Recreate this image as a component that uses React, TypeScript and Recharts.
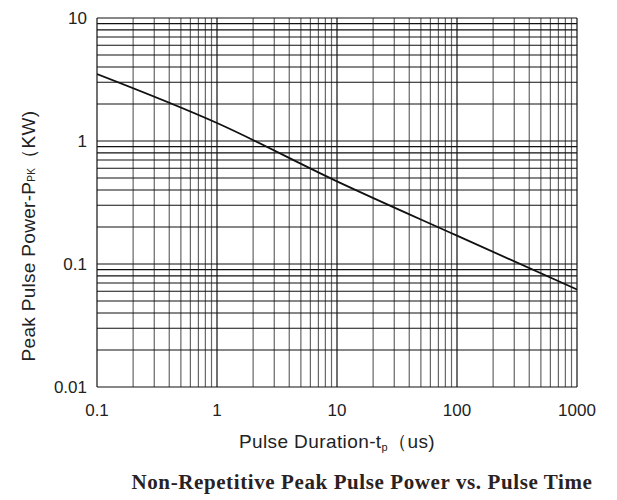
import { LineChart, Line, XAxis, YAxis, ReferenceLine, Label } from 'recharts';

// pulse duration (us) vs peak pulse power (kW)
const DURATION = [0.1, 1, 10, 100, 1000];
const POWER = [3.5, 1.4, 0.47, 0.17, 0.062];

const X_TICKS = [0.1, 1, 10, 100, 1000];
const Y_TICKS = [0.01, 0.1, 1, 10];
const X_TICK_LABELS = ['0.1', '1', '10', '100', '1000'];
const Y_TICK_LABELS = ['0.01', '0.1', '1', '10'];

// log grid: 1..9 in every decade
const MULTIPLIERS = [1, 2, 3, 4, 5, 6, 7, 8, 9];
const X_DECADES = [0.1, 1, 10, 100];
const Y_DECADES = [0.01, 0.1, 1];

const data = DURATION.map((d, i) => ({ t: d, p: POWER[i] }));

const xGrid = [...X_DECADES.flatMap((d) => MULTIPLIERS.map((m) => +(d * m).toPrecision(3))), 1000];
const yGrid = [...Y_DECADES.flatMap((d) => MULTIPLIERS.map((m) => +(d * m).toPrecision(3))), 10];

const SANS = '"Liberation Sans", Arial, sans-serif';
const SERIF = '"Liberation Serif", "Times New Roman", serif';

const tickStyle = { fontSize: 17, fill: '#222', fontFamily: SANS };

function XTitle(props: any) {
    const vb = props.viewBox || {};
    return (
        <text
            x={vb.x + vb.width / 2}
            y={vb.y + 61}
            textAnchor="middle"
            fontFamily={SANS}
            fontSize={19}
            letterSpacing={0.4}
            fill="#222"
        >
            Pulse Duration-t
            <tspan fontSize={11} dy={3}>p</tspan>
            <tspan dy={-3}>（us)</tspan>
        </text>
    );
}

function YTitle() {
    return (
        <text
            x={28}
            y={236}
            transform="rotate(-90 28 236)"
            textAnchor="middle"
            dominantBaseline="central"
            fontFamily={SANS}
            fontSize={19}
            letterSpacing={0.3}
            fill="#222"
        >
            Peak Pulse Power-P
            <tspan fontSize={10} dy={3}>PK</tspan>
            <tspan dy={-3}>（KW)</tspan>
        </text>
    );
}

export default function App() {
    return (
        <div style={{ position: 'absolute', left: 0, top: 0, width: 617, height: 500, background: '#fff' }}>
            <LineChart width={617} height={500} data={data} margin={{ top: 18, right: 40, bottom: 43, left: 37 }}>
                {xGrid.map((v) => (
                    <ReferenceLine
                        key={`x-${v}`}
                        x={v}
                        stroke={X_TICKS.includes(v) ? '#111' : '#666'}
                        strokeWidth={1.2}
                        ifOverflow="visible"
                    />
                ))}
                {yGrid.map((v) => (
                    <ReferenceLine key={`y-${v}`} y={v} stroke="#111" strokeWidth={1.1} ifOverflow="visible" />
                ))}
                <XAxis
                    dataKey="t"
                    type="number"
                    scale="log"
                    domain={[0.1, 1000]}
                    ticks={X_TICKS}
                    tickFormatter={(v: number) => X_TICK_LABELS[X_TICKS.indexOf(v)] ?? String(v)}
                    allowDataOverflow
                    axisLine={false}
                    tickLine={false}
                    tickSize={0}
                    tickMargin={17}
                    height={70}
                    interval={0}
                    tick={tickStyle}
                >
                    <Label content={XTitle} />
                </XAxis>
                <YAxis
                    dataKey="p"
                    type="number"
                    scale="log"
                    domain={[0.01, 10]}
                    ticks={Y_TICKS}
                    tickFormatter={(v: number) => Y_TICK_LABELS[Y_TICKS.indexOf(v)] ?? String(v)}
                    allowDataOverflow
                    axisLine={false}
                    tickLine={false}
                    tickSize={0}
                    tickMargin={10}
                    width={60}
                    interval={0}
                    tick={tickStyle}
                >
                    <Label content={YTitle} />
                </YAxis>
                <Line
                    type="monotone"
                    dataKey="p"
                    stroke="#111"
                    strokeWidth={1.8}
                    dot={false}
                    isAnimationActive={false}
                />
            </LineChart>
            <div
                style={{
                    position: 'absolute',
                    left: 0,
                    width: 724,
                    top: 470,
                    textAlign: 'center',
                    fontFamily: SERIF,
                    fontWeight: 'bold',
                    fontSize: 21,
                    letterSpacing: 0.6,
                    color: '#2a2222',
                    whiteSpace: 'nowrap',
                }}
            >
                Non-Repetitive Peak Pulse Power vs. Pulse Time
            </div>
        </div>
    );
}
